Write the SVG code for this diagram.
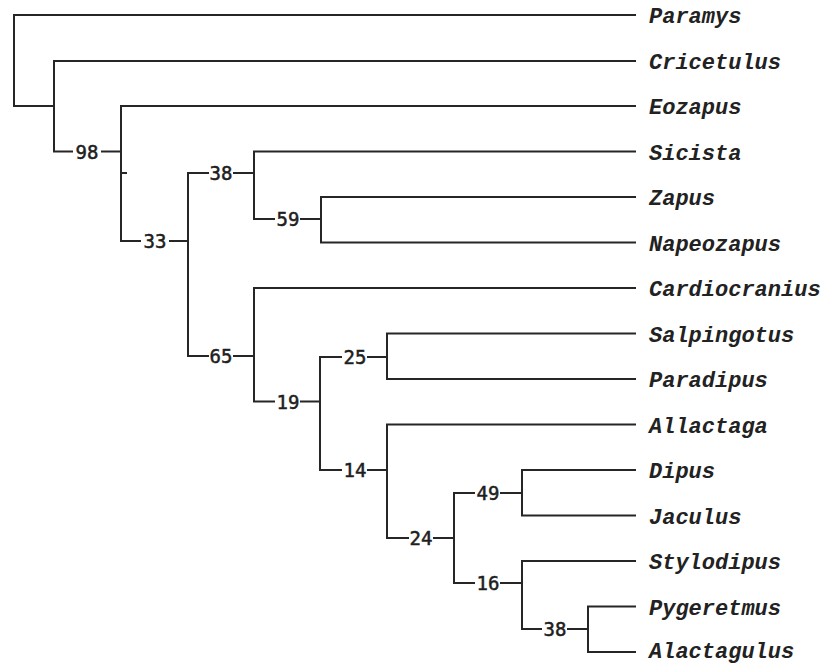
<svg xmlns="http://www.w3.org/2000/svg" width="825" height="664" viewBox="0 0 825 664">
<style>
.br{fill:none;stroke:#262626;stroke-width:2;stroke-linecap:square}
.num{font-family:"DejaVu Sans Mono",monospace;font-size:19px;fill:#1e1e1e;stroke:#1e1e1e;stroke-width:0.5;text-anchor:middle}
.tax{font-family:"Liberation Mono","Courier New",monospace;font-size:22px;font-weight:bold;font-style:italic;fill:#222}
</style>
<rect width="825" height="664" fill="#ffffff"/>
<g id="connectors" class="br">
<path d="M14,106 V15 H635 M14,106 H54"/>
<path d="M54,61 V151.5 M54,61 H635 M54,151.5 H72 M102,151.5 H121"/>
<path d="M121,106 V241 M121,106 H635 M121,173 H126 M121,241 H140 M170,241 H188"/>
<path d="M188,173 V356 M188,173 H208 M234,173 H254 M188,356 H208 M234,356 H254"/>
<path d="M254,151.5 V219 M254,151.5 H635 M254,219 H274 M301,219 H321"/>
<path d="M321,197 V242.5 M321,197 H635 M321,242.5 H635"/>
<path d="M254,288 V401.5 M254,288 H635 M254,401.5 H274 M301,401.5 H320"/>
<path d="M320,357 V470 M320,357 H341 M368,357 H387 M320,470 H341 M368,470 H387"/>
<path d="M387,333.5 V379 M387,333.5 H635 M387,379 H635"/>
<path d="M387,424.5 V538 M387,424.5 H635 M387,538 H408 M434,538 H454"/>
<path d="M454,493 V583 M454,493 H474 M501,493 H522 M454,583 H474 M501,583 H522"/>
<path d="M522,470 V515.5 M522,470 H635 M522,515.5 H635"/>
<path d="M522,561 V629 M522,561 H635 M522,629 H541 M568,629 H588"/>
<path d="M588,606.5 V652 M588,606.5 H635 M588,652 H635"/>
</g>
<g id="n98"><text class="num" x="87" y="158.5">98</text></g>
<g id="n33"><text class="num" x="155" y="248">33</text></g>
<g id="n38a"><text class="num" x="221" y="180">38</text></g>
<g id="n59"><text class="num" x="288" y="226">59</text></g>
<g id="n65"><text class="num" x="221" y="363">65</text></g>
<g id="n19"><text class="num" x="288" y="408.5">19</text></g>
<g id="n25"><text class="num" x="355" y="364">25</text></g>
<g id="n14"><text class="num" x="355" y="477">14</text></g>
<g id="n24"><text class="num" x="421" y="545">24</text></g>
<g id="n49"><text class="num" x="488" y="500">49</text></g>
<g id="n16"><text class="num" x="488" y="590">16</text></g>
<g id="n38b"><text class="num" x="555" y="636">38</text></g>
<g id="t-paramys"><text class="tax" x="649" y="23">Paramys</text></g>
<g id="t-cricetulus"><text class="tax" x="649" y="68.5">Cricetulus</text></g>
<g id="t-eozapus"><text class="tax" x="649" y="114">Eozapus</text></g>
<g id="t-sicista"><text class="tax" x="649" y="159.5">Sicista</text></g>
<g id="t-zapus"><text class="tax" x="649" y="205">Zapus</text></g>
<g id="t-napeozapus"><text class="tax" x="649" y="250.5">Napeozapus</text></g>
<g id="t-cardiocranius"><text class="tax" x="649" y="296">Cardiocranius</text></g>
<g id="t-salpingotus"><text class="tax" x="649" y="341.5">Salpingotus</text></g>
<g id="t-paradipus"><text class="tax" x="649" y="387">Paradipus</text></g>
<g id="t-allactaga"><text class="tax" x="649" y="432.5">Allactaga</text></g>
<g id="t-dipus"><text class="tax" x="649" y="478">Dipus</text></g>
<g id="t-jaculus"><text class="tax" x="649" y="523.5">Jaculus</text></g>
<g id="t-stylodipus"><text class="tax" x="649" y="569">Stylodipus</text></g>
<g id="t-pygeretmus"><text class="tax" x="649" y="614.5">Pygeretmus</text></g>
<g id="t-alactagulus"><text class="tax" x="649" y="657.5">Alactagulus</text></g>
</svg>
